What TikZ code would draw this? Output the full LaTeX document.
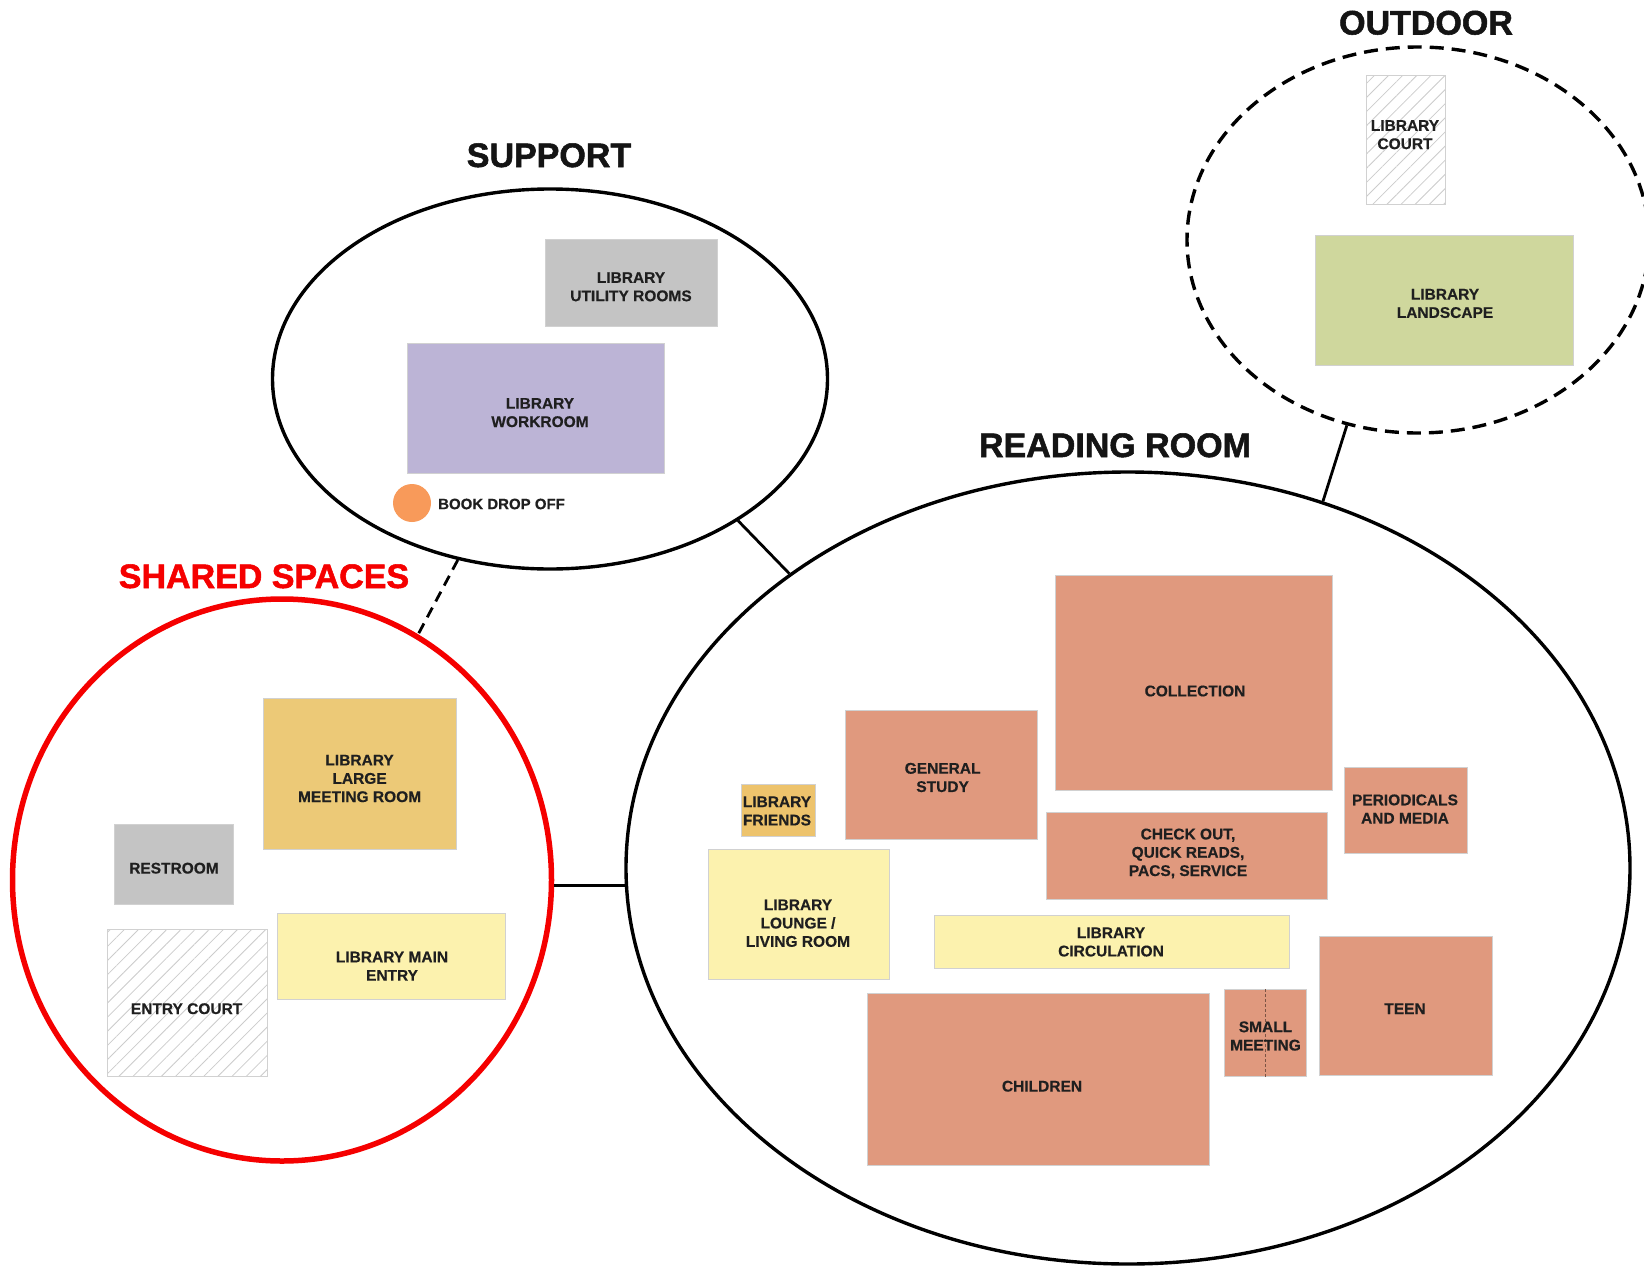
\documentclass[tikz,border=0pt]{standalone}
\usepackage{fontspec}
\setmainfont{Liberation Sans}
\newfontfamily\titlefont[FakeBold=1.6]{Liberation Sans Bold}
\newfontfamily\boxfont[FakeBold=0.4]{Liberation Sans Bold}
\usetikzlibrary{shapes.geometric,patterns.meta}
\definecolor{salmon}{HTML}{E0997E}
\definecolor{lyellow}{HTML}{FCF2AE}
\definecolor{gold}{HTML}{ECC977}
\definecolor{friendgold}{HTML}{EDC36C}
\definecolor{roomgray}{HTML}{C4C4C4}
\definecolor{lavender}{HTML}{BCB4D6}
\definecolor{lgreen}{HTML}{CFD79D}
\definecolor{dropor}{HTML}{F89A5A}
\definecolor{sharedred}{HTML}{F50000}
\tikzset{
  room/.style={rectangle, draw=black!18, line width=0.6pt, inner sep=0pt, anchor=north west},
  lbl/.style={inner sep=0pt, align=center, text=black!88, font=\boxfont\fontsize{15.5}{18.3}\selectfont},
  hatched/.style={fill=white, pattern={Lines[angle=45,distance=10pt,line width=0.8pt]}, pattern color=black!20},
  zonetitle/.style={font=\titlefont\fontsize{34}{40}\selectfont, anchor=base, inner sep=0pt, text=black!92},
  zone/.style={ellipse, draw=black, line width=3.4pt, inner sep=0pt},
  link/.style={draw=black, line width=2.8pt},
}
\begin{document}
\begin{tikzpicture}[x=1pt,y=-1pt]
\useasboundingbox[fill=white] (0,0) rectangle (1644,1266);

% zones
\node[zone, minimum width=555pt, minimum height=380pt] (sup) at (550,379) {};
\node[zone, minimum width=1004pt, minimum height=792pt] (read) at (1128,868) {};
\node[zone, dash pattern=on 14pt off 8pt, line width=3.4pt, minimum width=462pt, minimum height=386pt] (out) at (1418,240) {};
\node[ellipse, draw=sharedred, line width=5.5pt, inner sep=0pt, minimum width=539pt, minimum height=562pt] (shr) at (282,880) {};

% titles
\node[zonetitle] (tout) at (1426,34.5) {OUTDOOR};
\node[zonetitle] (tsup) at (549,167) {SUPPORT};
\node[zonetitle] (tread) at (1115,457) {READING ROOM};
\node[zonetitle, text=sharedred] (tshr) at (264,588) {SHARED SPACES};

% connectors
\coordinate (rw) at (read.-178.2);
\draw[link] (sup.-37.4) -- (read.139.4);
\draw[link] (out.-111) -- (read.62.4);
\draw[link, dash pattern=on 11pt off 7pt] (sup.-117) -- (shr.61.4);
\draw[link] (shr.east |- rw) -- (rw);

% outdoor
\node[room, hatched, minimum width=79pt, minimum height=129pt] (court) at (1366,75) {};
\node[lbl] (courtT) at (1405,134.7) {LIBRARY\\COURT};
\node[room, fill=lgreen, minimum width=258pt, minimum height=130pt] (land) at (1315,235) {};
\node[lbl] (landT) at (1445,303.5) {LIBRARY\\LANDSCAPE};

% support
\node[room, fill=roomgray, minimum width=172pt, minimum height=87pt] (util) at (545,239) {};
\node[lbl] (utilT) at (631,286.8) {LIBRARY\\UTILITY ROOMS};
\node[room, fill=lavender, minimum width=257pt, minimum height=130pt] (work) at (407,343) {};
\node[lbl] (workT) at (540,412.6) {LIBRARY\\WORKROOM};
\node[circle, fill=dropor, minimum size=38pt, inner sep=0pt] (drop) at (412,503) {};
\node[lbl, anchor=west, font=\boxfont\fontsize{15}{18}\selectfont] (dropT) at (438,504) {BOOK DROP OFF};

% shared spaces
\node[room, fill=gold, minimum width=193pt, minimum height=151pt] (lmr) at (263,698) {};
\node[lbl] (lmrT) at (359.6,778.5) {LIBRARY\\LARGE\\MEETING ROOM};
\node[room, fill=roomgray, minimum width=119pt, minimum height=80pt] (rest) at (114,824) {};
\node[lbl] (restT) at (174,868.2) {RESTROOM};
\node[room, hatched, minimum width=160pt, minimum height=147pt] (ecourt) at (107,929) {};
\node[lbl] (ecourtT) at (186.6,1008.7) {ENTRY COURT};
\node[room, fill=lyellow, minimum width=228pt, minimum height=86pt] (mainentry) at (277,913) {};
\node[lbl] (mainentryT) at (392,966.2) {LIBRARY MAIN\\ENTRY};

% reading room
\node[room, fill=salmon, minimum width=277pt, minimum height=215pt] (coll) at (1055,575) {};
\node[lbl] (collT) at (1195,691) {COLLECTION};
\node[room, fill=salmon, minimum width=192pt, minimum height=129pt] (gs) at (845,710) {};
\node[lbl] (gsT) at (942.6,777.5) {GENERAL\\STUDY};
\node[room, fill=friendgold, minimum width=74pt, minimum height=52pt] (fr) at (741,784) {};
\node[lbl] (frT) at (777,811) {LIBRARY\\FRIENDS};
\node[room, fill=salmon, minimum width=281pt, minimum height=87pt] (chk) at (1046,812) {};
\node[lbl] (chkT) at (1188,853.5) {CHECK OUT,\\QUICK READS,\\PACS, SERVICE};
\node[room, fill=salmon, minimum width=123pt, minimum height=86pt] (per) at (1344,767) {};
\node[lbl] (perT) at (1405,809) {PERIODICALS\\AND MEDIA};
\node[room, fill=lyellow, minimum width=181pt, minimum height=130pt] (lng) at (708,849) {};
\node[lbl] (lngT) at (798,923.2) {LIBRARY\\LOUNGE /\\LIVING ROOM};
\node[room, fill=lyellow, minimum width=355pt, minimum height=53pt] (circ) at (934,915) {};
\node[lbl] (circT) at (1111,942) {LIBRARY\\CIRCULATION};
\node[room, fill=salmon, minimum width=173pt, minimum height=139pt] (teen) at (1319,936) {};
\node[lbl] (teenT) at (1405,1008.7) {TEEN};
\node[room, fill=salmon, minimum width=82pt, minimum height=87pt] (sm) at (1224,989) {};
\draw[densely dashed, draw=black!45!salmon, line width=0.8pt] (sm.north) -- (sm.south);
\node[lbl] (smT) at (1265.5,1036) {SMALL\\MEETING};
\node[room, fill=salmon, minimum width=342pt, minimum height=172pt] (chi) at (867,993) {};
\node[lbl] (chiT) at (1042,1086.2) {CHILDREN};
\end{tikzpicture}
\end{document}
